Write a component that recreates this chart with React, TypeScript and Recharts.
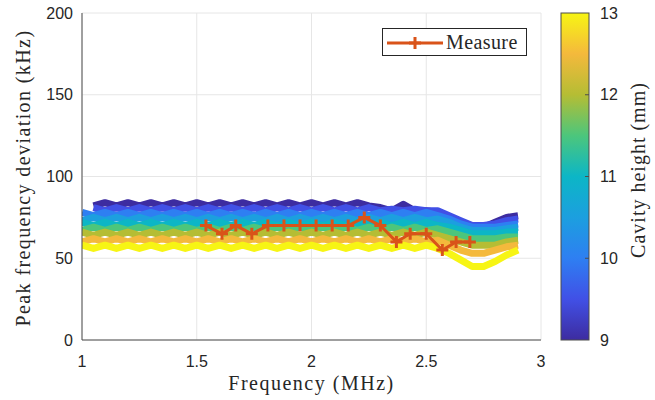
import { LineChart, Line, XAxis, YAxis, CartesianGrid, Legend } from 'recharts';

// frequency grid shared by the simulated curves (MHz)
const freq = [
  1.0, 1.05, 1.1, 1.15, 1.2, 1.25, 1.3, 1.35, 1.4, 1.45,
  1.5, 1.55, 1.6, 1.65, 1.7, 1.75, 1.8, 1.85, 1.9, 1.95,
  2.0, 2.05, 2.1, 2.15, 2.2, 2.25, 2.3, 2.35, 2.4, 2.45,
  2.5, 2.55, 2.6, 2.65, 2.7, 2.75, 2.8, 2.85, 2.9,
];

// cavity heights (mm) of the simulated curves
const heights = [9, 9.5, 10, 10.5, 11, 11.5, 12, 12.5, 13];

// peak frequency deviation (kHz) per cavity height
const dev9 = [
  null, 82, 84, 82, 84, 82, 84, 82, 84, 82,
  84, 82, 84, 82, 84, 82, 84, 82, 84, 82,
  84, 82, 84, 82, 84, 82, 81, 79, 83, 79,
  79, 78, 75, 71, 68, 69, 72, 75, 76,
];
const dev9_5 = [
  null, 81, 79, 81, 79, 81, 79, 81, 79, 81,
  79, 81, 79, 81, 79, 81, 79, 81, 79, 81,
  79, 81, 79, 81, 79, 81, 79, 80, 79, 80,
  79, 79, 76, 73, 70, 70, 71, 73, 74,
];
const dev10 = [
  78, 76, 78, 76, 78, 76, 78, 76, 78, 76,
  78, 76, 78, 76, 78, 76, 78, 76, 78, 76,
  78, 76, 78, 76, 78, 76, 78, 76, 78, 76,
  78, 76, 74, 71, 69, 69, 69, 70, 71,
];
const dev10_5 = [
  73, 75, 73, 75, 73, 75, 73, 75, 73, 75,
  73, 75, 73, 75, 73, 75, 73, 75, 73, 75,
  73, 75, 73, 75, 73, 75, 73, 75, 73, 75,
  73, 74, 72, 69, 67, 67, 67, 68, 69,
];
const dev11 = [
  72, 70, 72, 70, 72, 70, 72, 70, 72, 70,
  72, 70, 72, 70, 72, 70, 72, 70, 72, 70,
  72, 70, 72, 70, 72, 70, 72, 70, 72, 70,
  72, 70, 69, 67, 65, 65, 65, 66, 66,
];
const dev11_5 = [
  67, 69, 67, 69, 67, 69, 67, 69, 67, 69,
  67, 69, 67, 69, 67, 69, 67, 69, 67, 69,
  67, 69, 67, 69, 67, 69, 67, 69, 67, 69,
  67, 68, 66, 64, 62, 62, 62, 63, 63,
];
const dev12 = [
  66, 64, 66, 64, 66, 64, 66, 64, 66, 64,
  66, 64, 66, 64, 66, 64, 66, 64, 66, 64,
  66, 64, 66, 64, 66, 64, 66, 64, 66, 64,
  66, 64, 62, 60, 58, 58, 58, 60, 61,
];
const dev12_5 = [
  60, 62, 60, 62, 60, 62, 60, 62, 60, 62,
  60, 62, 60, 62, 60, 62, 60, 62, 60, 62,
  60, 62, 60, 62, 60, 62, 60, 62, 60, 62,
  60, 61, 58, 55, 53, 53, 55, 57, 58,
];
const dev13 = [
  58, 56, 58, 56, 58, 56, 58, 56, 58, 56,
  58, 56, 58, 56, 58, 56, 58, 56, 58, 56,
  58, 56, 58, 56, 58, 56, 58, 56, 58, 56,
  58, 56, 53, 49, 45, 45, 48, 52, 55,
];
const simulated = [dev9, dev9_5, dev10, dev10_5, dev11, dev11_5, dev12, dev12_5, dev13];

// measurement
const measureFreq = [1.54, 1.61, 1.67, 1.74, 1.81, 1.88, 1.95, 2.02, 2.09, 2.16, 2.23, 2.3, 2.37, 2.43, 2.5, 2.57, 2.63, 2.69];
const measureDev = [70, 65, 70, 65, 70, 70, 70, 70, 70, 70, 75, 70, 60, 65, 65, 55, 60, 60];

const xTicks = [1, 1.5, 2, 2.5, 3];
const yTicks = [0, 50, 100, 150, 200];
const barTicks = [9, 10, 11, 12, 13];

// parula-like colours for heights 9 .. 13
const palette = ['#3d2ca0', '#4150e6', '#2e7ff2', '#1c9fdf', '#0cb6c6', '#4cc67c', '#b5bd34', '#f4b93c', '#f7f514'];

const AXIS = '#4d4d4d';
const TICK_FONT = { fontFamily: 'Liberation Sans, Arial, sans-serif', fontSize: 16, fill: '#262626' };
const SERIF = 'Liberation Serif, Times New Roman, serif';

// plot box in page pixels
const PL = 82, PR = 541, PT = 13, PB = 340;
// colorbar box
const CL = 561, CR = 589;

const plusDot = (props: any) => {
  const { cx, cy, index } = props;
  if (cx == null || cy == null) return <g key={index} />;
  const s = 6;
  return (
    <path key={index} d={`M${cx - s},${cy}L${cx + s},${cy}M${cx},${cy - s}L${cx},${cy + s}`}
      stroke="#d95319" strokeWidth={3} fill="none" />
  );
};

function LegendBox() {
  return (
    <div style={{ width: 143, height: 26, border: '1px solid #262626', background: '#fff', display: 'flex', alignItems: 'center' }}>
      <svg width={62} height={26}>
        <line x1={4} y1={14} x2={60} y2={14} stroke="#d95319" strokeWidth={3} />
        <path d="M32,8L32,20M26,14L38,14" stroke="#d95319" strokeWidth={3} />
      </svg>
      <span style={{ fontFamily: SERIF, fontSize: 20, letterSpacing: 0.4, color: '#262626', marginLeft: 1 }}>Measure</span>
    </div>
  );
}

function App() {
  const series = simulated.map((vals) => freq.map((x, i) => ({ x, y: vals[i] })));
  const measure = measureFreq.map((x, i) => ({ x, y: measureDev[i] }));
  const barH = PB - PT;

  return (
    <div style={{ position: 'absolute', left: 0, top: 0, width: 655, height: 400, background: '#fff' }}>
      <LineChart width={655} height={400} margin={{ top: PT, right: 655 - PR, left: PL - 60, bottom: 30 }}>
        <CartesianGrid stroke="#e6e6e6" />
        <XAxis dataKey="x" type="number" domain={[1, 3]} ticks={xTicks} allowDataOverflow height={30}
          tickLine={false} tickSize={0} tickMargin={16} tick={TICK_FONT} axisLine={{ stroke: AXIS }} />
        <XAxis xAxisId="top" orientation="top" type="number" domain={[1, 3]} ticks={xTicks} height={0}
          tick={false} tickLine={false} axisLine={{ stroke: AXIS }} />
        <YAxis type="number" domain={[0, 200]} ticks={yTicks} width={60} tickLine={false} tickSize={0}
          tickMargin={9} tick={TICK_FONT} axisLine={{ stroke: AXIS }} />
        <YAxis yAxisId="right" orientation="right" type="number" domain={[0, 200]} width={0}
          tick={false} tickLine={false} axisLine={{ stroke: AXIS }} />
        {series.map((d, k) => (
          <Line key={heights[k]} data={d} dataKey="y" stroke={palette[k]} strokeWidth={7}
            strokeLinejoin="round" dot={false} activeDot={false} isAnimationActive={false} legendType="none" />
        ))}
        <Line data={measure} dataKey="y" name="Measure" stroke="#d95319" strokeWidth={3}
          dot={plusDot} activeDot={false} isAnimationActive={false} />
        <Legend layout="horizontal" verticalAlign="middle" align="center" content={() => <LegendBox />}
          wrapperStyle={{ left: 382, top: 28, width: 145, height: 28 }} />
      </LineChart>

      <svg width={655} height={400} style={{ position: 'absolute', left: 0, top: 0, pointerEvents: 'none' }}>
        <defs>
          <linearGradient id="parula" x1="0" y1="1" x2="0" y2="0">
            {palette.map((c, i) => (
              <stop key={c} offset={i / (palette.length - 1)} stopColor={c} />
            ))}
          </linearGradient>
        </defs>
        <rect x={CL} y={PT} width={CR - CL} height={barH} fill="url(#parula)" stroke={AXIS} />
        {barTicks.map((t) => {
          const y = PB - ((t - 9) / 4) * barH;
          return (
            <g key={t}>
              {t > 9 && t < 13 && <line x1={CR - 4} x2={CR} y1={y} y2={y} stroke={AXIS} />}
              <text x={600} y={y} dominantBaseline="central" {...TICK_FONT}>{t}</text>
            </g>
          );
        })}
        <text transform="translate(645,170) rotate(-90)" textAnchor="middle" fontFamily={SERIF} fontSize={20}
          letterSpacing={1} fill="#262626">Cavity height (mm)</text>
        <text transform="translate(30,178) rotate(-90)" textAnchor="middle" fontFamily={SERIF} fontSize={20}
          letterSpacing={1.4} fill="#262626">Peak frequency deviation (kHz)</text>
        <text x={(PL + PR) / 2} y={390} textAnchor="middle" fontFamily={SERIF} fontSize={20}
          letterSpacing={1.5} fill="#262626">Frequency (MHz)</text>
      </svg>
    </div>
  );
}

export default App;
